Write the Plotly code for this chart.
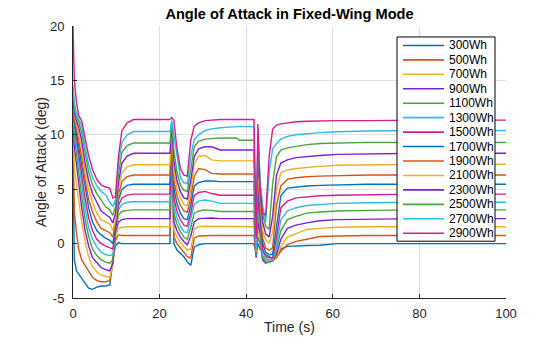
import plotly.graph_objects as go

# ---------------- data ----------------
time_s = [0, 0.3, 0.8, 1.3, 2.0, 2.8, 3.6, 4.5, 5.5, 6.5, 7.5, 8.5, 9.2, 9.8, 10.5, 11.3, 12.5, 14,
          22.4, 22.8, 23.3, 24.0, 24.8, 25.6, 26.4, 27.2, 28.0, 29.0, 30.5, 32.0, 34, 37.8, 38.4, 41.8,
          42.3, 42.7, 43.2, 43.8, 44.5, 45.3, 46.1, 47.0, 48.0, 49.5, 51.5, 54, 57, 61, 68, 80, 100]

series_names = ["300Wh", "500Wh", "700Wh", "900Wh", "1100Wh", "1300Wh", "1500Wh",
                "1700Wh", "1900Wh", "2100Wh", "2300Wh", "2500Wh", "2700Wh", "2900Wh"]

aoa_300 = [8.0, -1.5, -2.5, -2.8, -3.2, -3.6, -4.1, -4.2, -4.0, -3.9, -3.9, -3.8, -1.5, -0.2, 0.1, 0.0, 0.0, 0.0,
           0.0, 10.4, 0.0, -0.6, -0.9, -1.2, -1.7, -2.0, -0.3, -0.1, 0.0, 0.0, 0.0, 0.0, 0.0, 0.0,
           -1.0, 0.0, -0.5, -0.8, -1.0, -1.2, -1.4, -1.3, -0.5, -0.25, -0.2, -0.18, -0.15, 0.0, 0.0, 0.0, 0.0]
aoa_500 = [10.0, 3.0, 1.0, -0.5, -1.5, -2.0, -2.6, -3.1, -3.4, -3.5, -3.5, -3.4, -1.8, 0.3, 0.8, 0.75, 0.75, 0.75,
           0.75, 10.2, 0.6, 0.0, -0.4, -0.8, -1.2, -1.3, 0.5, 0.7, 0.75, 0.75, 0.75, 0.75, 0.75, 0.75,
           -1.2, 0.6, 0.0, -1.2, -1.4, -1.5, -1.6, -1.3, -0.7, -0.1, 0.2, 0.4, 0.65, 0.7, 0.75, 0.75, 0.75]
aoa_700 = [11.0, 7.0, 5.5, 4.0, 2.0, 0.2, -1.2, -2.1, -2.6, -2.9, -3.0, -3.1, -2.0, 0.6, 1.4, 1.5, 1.55, 1.55,
           1.55, 10.0, 1.3, 0.6, 0.1, -0.3, -0.6, -0.5, 1.3, 1.55, 1.6, 1.6, 1.55, 1.55, 1.55, 1.55,
           -1.0, 1.4, 0.5, -1.4, -1.6, -1.6, -1.6, -1.2, -0.3, 0.6, 0.9, 1.3, 1.4, 1.5, 1.55, 1.55, 1.55]
aoa_900 = [11.5, 9.0, 7.3, 5.4, 3.3, 1.2, -0.2, -1.3, -1.8, -2.2, -2.4, -2.5, -1.8, 1.0, 2.0, 2.2, 2.3, 2.3,
           2.3, 10.3, 2.0, 1.2, 0.6, 0.2, -0.1, 0.7, 2.0, 2.3, 2.35, 2.35, 2.3, 2.3, 2.3, 2.3,
           -1.3, 2.0, 1.0, -1.5, -1.8, -1.7, -1.6, -1.0, 0.4, 1.4, 1.7, 1.9, 2.1, 2.2, 2.25, 2.3, 2.3]
aoa_1100 = [11.8, 10.0, 8.3, 6.5, 4.4, 2.2, 0.7, -0.5, -1.1, -1.5, -1.7, -1.8, -1.5, 1.2, 2.6, 2.95, 3.05, 3.1,
            3.1, 10.5, 2.8, 1.8, 1.1, 0.6, 0.4, 1.5, 2.8, 3.0, 3.1, 3.05, 2.95, 2.95, 2.95, 2.95,
            -0.8, 2.8, 1.5, -1.3, -1.7, -1.7, -1.6, -0.6, 1.2, 2.2, 2.5, 2.8, 2.9, 3.0, 3.05, 3.1, 3.1]
aoa_1300 = [12.0, 10.5, 9.0, 7.5, 5.4, 3.2, 1.5, 0.4, -0.3, -0.8, -1.0, -1.1, -1.0, 1.2, 3.1, 3.6, 3.8, 3.85,
            3.85, 10.6, 3.5, 2.4, 1.6, 1.1, 1.0, 2.2, 3.6, 3.9, 4.0, 3.9, 3.7, 3.7, 3.7, 3.7,
            -1.1, 3.5, 2.0, -1.0, -1.5, -1.5, -1.5, -0.2, 2.2, 3.0, 3.3, 3.5, 3.6, 3.7, 3.75, 3.8, 3.8]
aoa_1500 = [12.2, 11.0, 9.7, 8.3, 6.3, 4.1, 2.4, 1.2, 0.4, 0.0, -0.2, -0.4, -0.5, 1.2, 3.5, 4.2, 4.45, 4.55,
            4.55, 10.4, 4.2, 3.0, 2.2, 1.7, 1.6, 2.8, 4.4, 4.7, 4.8, 4.6, 4.45, 4.45, 4.45, 4.45,
            -0.9, 4.0, 2.5, -0.5, -1.2, -1.3, -1.3, 0.5, 3.3, 3.9, 4.2, 4.3, 4.4, 4.45, 4.5, 4.55, 4.55]
aoa_1700 = [12.5, 11.2, 10.2, 9.0, 7.2, 5.0, 3.3, 2.0, 1.2, 0.8, 0.5, 0.3, 0.0, 1.4, 4.0, 5.0, 5.35, 5.45,
            5.45, 10.7, 5.0, 3.7, 2.8, 2.3, 2.2, 3.5, 5.3, 5.6, 5.75, 5.75, 5.7, 5.7, 5.7, 5.7,
            -1.0, 5.0, 3.0, 0.0, -0.8, -1.0, -1.0, 1.5, 4.4, 5.1, 5.2, 5.3, 5.35, 5.4, 5.45, 5.45, 5.45]
aoa_1900 = [12.8, 11.5, 10.6, 9.6, 8.0, 5.8, 4.1, 2.9, 2.0, 1.4, 1.2, 1.0, 0.6, 1.8, 4.5, 5.7, 6.15, 6.3,
            6.3, 10.8, 5.8, 4.4, 3.5, 3.0, 2.9, 4.2, 6.2, 6.9, 6.8, 6.45, 6.4, 6.4, 6.4, 6.4,
            -0.5, 6.0, 3.8, 0.5, -0.4, -0.6, -0.4, 3.5, 5.3, 5.9, 6.05, 6.15, 6.2, 6.25, 6.3, 6.3, 6.3]
aoa_2100 = [13.0, 11.8, 11.0, 10.2, 8.8, 6.6, 5.0, 3.8, 2.8, 2.2, 2.0, 1.8, 1.2, 2.2, 5.0, 6.5, 7.05, 7.25,
            7.25, 11.0, 6.7, 5.1, 4.2, 3.6, 3.5, 5.0, 7.3, 8.0, 8.1, 7.7, 7.6, 7.6, 7.6, 7.6,
            -0.8, 7.0, 4.5, 1.2, 0.3, 0.1, 1.0, 5.0, 6.5, 6.75, 6.9, 7.0, 7.1, 7.2, 7.25, 7.3, 7.3]
aoa_2300 = [13.5, 12.0, 11.3, 10.7, 9.5, 7.4, 5.8, 4.6, 3.8, 3.0, 2.7, 2.4, 1.9, 2.8, 5.6, 7.4, 8.05, 8.3,
            8.3, 11.0, 7.6, 5.8, 4.8, 4.2, 4.1, 5.8, 8.0, 8.7, 8.9, 8.9, 8.6, 8.6, 8.6, 8.6,
            -0.3, 8.0, 5.0, 2.0, 0.9, 0.6, 2.5, 6.3, 7.4, 7.7, 7.9, 8.0, 8.1, 8.2, 8.25, 8.3, 8.3]
aoa_2500 = [14.0, 12.5, 11.6, 11.2, 10.2, 8.2, 6.6, 5.4, 4.6, 4.0, 3.4, 3.1, 2.6, 3.4, 6.4, 8.4, 9.0, 9.25,
            9.25, 11.2, 8.6, 6.6, 5.4, 4.9, 4.8, 6.8, 8.9, 9.4, 9.6, 9.65, 9.7, 9.7, 9.5, 9.5,
            0.0, 9.0, 5.5, 2.8, 1.6, 1.3, 5.5, 8.0, 8.6, 8.8, 8.95, 9.1, 9.2, 9.25, 9.3, 9.3, 9.3]
aoa_2700 = [14.5, 13.0, 12.0, 11.5, 10.8, 8.9, 7.3, 6.1, 5.3, 4.8, 4.5, 3.8, 3.4, 4.0, 7.2, 9.3, 10.0, 10.3,
            10.3, 11.3, 10.0, 7.8, 6.1, 5.6, 5.5, 8.0, 9.6, 10.0, 10.4, 10.55, 10.65, 10.75, 10.75, 10.75,
            -0.5, 10.5, 6.0, 3.5, 2.0, 6.5, 8.7, 9.2, 9.6, 9.85, 10.0, 10.1, 10.2, 10.28, 10.35, 10.4, 10.4]
aoa_2900 = [20.0, 15.0, 13.0, 11.8, 11.3, 9.6, 8.1, 6.8, 5.9, 5.4, 5.2, 5.1, 4.2, 4.3, 8.0, 10.4, 11.1, 11.4,
            11.4, 11.6, 11.3, 8.8, 6.9, 6.3, 6.2, 9.5, 10.8, 11.1, 11.3, 11.35, 11.4, 11.4, 11.4, 11.4,
            0.5, 11.0, 5.0, 2.8, 2.6, 8.0, 10.5, 10.9, 11.0, 11.1, 11.2, 11.25, 11.3, 11.3, 11.3, 11.35, 11.35]

series_values = [aoa_300, aoa_500, aoa_700, aoa_900, aoa_1100, aoa_1300, aoa_1500,
                 aoa_1700, aoa_1900, aoa_2100, aoa_2300, aoa_2500, aoa_2700, aoa_2900]

palette = ["#0072BD", "#D95319", "#EDB120", "#7E1FD6", "#45A83A", "#2BBDEE", "#D81B8E"]

x_ticks = [0, 20, 40, 60, 80, 100]
y_ticks = [-5, 0, 5, 10, 15, 20]

# ---------------- layout geometry (pixels) ----------------
W, H = 560, 337
L, R, T, B = 73, 506, 25.5, 298.5


def px2x(px):
    return (px - L) / (R - L)


def py2y(py):
    return (B - py) / (B - T)


fig = go.Figure()
for i, (name, vals) in enumerate(zip(series_names, series_values)):
    assert len(vals) == len(time_s), name
    fig.add_trace(go.Scatter(x=time_s, y=vals, mode="lines", name=name,
                             line=dict(color=palette[i % 7], width=1.4),
                             showlegend=False))

font_family = "Liberation Sans, Arial, Helvetica, sans-serif"
axis_col = "#262626"
grid_col = "#E0E0E0"

fig.update_layout(
    width=W, height=H,
    margin=dict(l=L, r=W - R, t=T, b=H - B, pad=0),
    paper_bgcolor="white", plot_bgcolor="white",
    font=dict(family=font_family, size=13, color=axis_col),
    showlegend=False,
    title=dict(text="<b>Angle of Attack in Fixed-Wing Mode</b>",
               x=px2x((L + R) / 2), xref="paper", xanchor="center",
               y=1 - 14 / H, yref="container", yanchor="middle",
               font=dict(size=14.6, color="#000000", family=font_family)),
)

fig.update_xaxes(range=[0, 100], tickvals=x_ticks, ticktext=[str(v) for v in x_ticks],
                 showgrid=True, gridcolor=grid_col, gridwidth=1, zeroline=False,
                 showline=True, linecolor=axis_col, linewidth=1, mirror=False,
                 ticks="inside", ticklen=4, tickcolor=axis_col,
                 tickfont=dict(size=13, color=axis_col), ticklabelstandoff=3)
fig.update_yaxes(range=[-5, 20], tickvals=y_ticks, ticktext=[str(v) for v in y_ticks],
                 showgrid=True, gridcolor=grid_col, gridwidth=1, zeroline=False,
                 showline=True, linecolor=axis_col, linewidth=1, mirror=False,
                 ticks="inside", ticklen=4, tickcolor=axis_col,
                 tickfont=dict(size=13, color=axis_col), ticklabelstandoff=5)

annotations = [
    dict(text="Time (s)", x=px2x((L + R) / 2), y=py2y(328), xref="paper", yref="paper",
         xanchor="center", yanchor="middle", showarrow=False,
         font=dict(size=14, color=axis_col, family=font_family)),
    dict(text="Angle of Attack (deg)", x=px2x(41), y=py2y((T + B) / 2), xref="paper", yref="paper",
         xanchor="center", yanchor="middle", showarrow=False, textangle=-90,
         font=dict(size=14, color=axis_col, family=font_family)),
]

# custom MATLAB-like legend box
shapes = [dict(type="rect", xref="paper", yref="paper",
               x0=px2x(397), x1=px2x(495), y0=py2y(241.5), y1=py2y(36.5),
               line=dict(color="#000000", width=1), fillcolor="white", layer="above")]
for i, name in enumerate(series_names):
    yy = 45 + 14.5 * i
    shapes.append(dict(type="line", xref="paper", yref="paper",
                       x0=px2x(403), x1=px2x(444), y0=py2y(yy), y1=py2y(yy),
                       line=dict(color=palette[i % 7], width=1.6), layer="above"))
    annotations.append(dict(text=name, x=px2x(447), y=py2y(yy), xref="paper", yref="paper",
                            xanchor="left", yanchor="middle", showarrow=False,
                            font=dict(size=12, color="#000000", family=font_family)))

fig.update_layout(shapes=shapes, annotations=annotations)

fig.write_html("out.html")
